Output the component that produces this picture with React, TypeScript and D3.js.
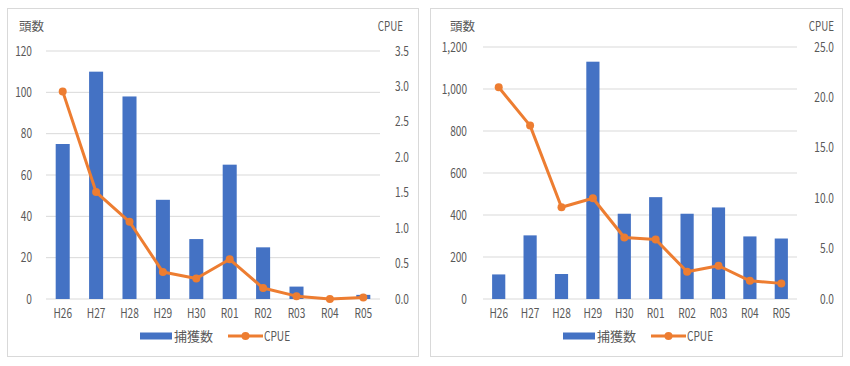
import React from 'react';
import * as d3 from 'd3';

// 年度
const years = ['H26', 'H27', 'H28', 'H29', 'H30', 'R01', 'R02', 'R03', 'R04', 'R05'];

// 左: 捕獲数 / CPUE
const countA = [75, 110, 98, 48, 29, 65, 25, 6, 0, 2];
const cpueA = [2.93, 1.51, 1.09, 0.38, 0.29, 0.56, 0.155, 0.04, 0.0, 0.02];

// 右: 捕獲数 / CPUE
const countB = [117, 303, 119, 1130, 406, 485, 406, 436, 298, 288];
const cpueB = [21.0, 17.2, 9.1, 10.0, 6.1, 5.9, 2.7, 3.3, 1.8, 1.55];

const BLUE = '#4472C4';
const ORANGE = '#ED7D31';
const GRID = '#d9d9d9';
const TEXT = '#595959';
const FONT = '"Liberation Sans Narrow", "Noto Sans CJK JP", sans-serif';

// narrow text (the original uses a condensed font)
function T({x, y, anchor = 'start', size = 13, sx = 0.78, children}) {
    return (
        <text transform={`translate(${x},${y}) scale(${sx},1)`} dy="0.35em" textAnchor={anchor} fontSize={size}>
            {children}
        </text>
    );
}

function Panel(props) {
    const {
        box, plot, yMax, yStep, yFmt, y2Max, y2Step, y2Fmt,
        counts, cpue, leftLabelX, rightLabelX, titleX, title2X, legendX
    } = props;

    const x = d3.scaleBand().domain(years).range([plot.left, plot.right]).paddingInner(0.58).paddingOuter(0.29);
    const y = d3.scaleLinear().domain([0, yMax]).range([plot.bottom, plot.top]);
    const y2 = d3.scaleLinear().domain([0, y2Max]).range([plot.bottom, plot.top]);

    const yTicks = d3.range(0, yMax + yStep / 2, yStep);
    const y2Ticks = d3.range(0, y2Max + y2Step / 2, y2Step);

    const cx = (d) => x(d) + x.bandwidth() / 2;
    const line = d3.line().x((d, i) => cx(years[i])).y((d) => y2(d));

    const ly = 336;

    return (
        <g fontFamily={FONT} fill={TEXT}>
            <rect x={box.x} y={box.y} width={box.w} height={box.h} fill="#fff" stroke={GRID} strokeWidth={1}/>

            {yTicks.map((t) => (
                <line key={'g' + t} x1={plot.left} x2={plot.right} y1={y(t)} y2={y(t)} stroke={GRID} strokeWidth={1}/>
            ))}
            {yTicks.map((t) => (
                <T key={'l' + t} x={leftLabelX} y={y(t)} anchor="end">{yFmt(t)}</T>
            ))}
            {y2Ticks.map((t) => (
                <T key={'r' + t} x={rightLabelX} y={y2(t)} anchor="end">{y2Fmt(t)}</T>
            ))}

            <T x={titleX} y={27} size={12.5} sx={1}>頭数</T>
            <T x={title2X} y={27} anchor="end" size={12.5}>CPUE</T>

            {counts.map((v, i) => (
                <rect key={'b' + i} x={x(years[i])} y={y(v)} width={x.bandwidth()} height={y(0) - y(v)} fill={BLUE}/>
            ))}

            <path d={line(cpue)} fill="none" stroke={ORANGE} strokeWidth={3} strokeLinejoin="round"/>
            {cpue.map((v, i) => (
                <circle key={'c' + i} cx={cx(years[i])} cy={y2(v)} r={4} fill={ORANGE}/>
            ))}

            {years.map((d) => (
                <T key={'x' + d} x={cx(d)} y={313} anchor="middle">{d}</T>
            ))}

            <rect x={legendX} y={ly - 3.5} width={32} height={7} fill={BLUE}/>
            <T x={legendX + 34} y={ly} size={13} sx={1}>捕獲数</T>
            <line x1={legendX + 88} x2={legendX + 123} y1={ly} y2={ly} stroke={ORANGE} strokeWidth={3}/>
            <circle cx={legendX + 105.5} cy={ly} r={4} fill={ORANGE}/>
            <T x={legendX + 124} y={ly}>CPUE</T>
        </g>
    );
}

export default function App() {
    const f0 = d3.format(',');
    const f1 = d3.format('.1f');
    return (
        <svg width={850} height={366} style={{position: 'absolute', left: 0, top: 0, background: '#fff'}}>
            <rect width={850} height={366} fill="#fff"/>
            <Panel
                box={{x: 7.5, y: 8.5, w: 411, h: 348}}
                plot={{left: 46, right: 380, top: 51, bottom: 299}}
                yMax={120} yStep={20} yFmt={f0}
                y2Max={3.5} y2Step={0.5} y2Fmt={f1}
                counts={countA} cpue={cpueA}
                leftLabelX={32} rightLabelX={409} titleX={19} title2X={403} legendX={140}
            />
            <Panel
                box={{x: 430.5, y: 8.5, w: 412, h: 348}}
                plot={{left: 483, right: 797, top: 47, bottom: 299}}
                yMax={1200} yStep={200} yFmt={f0}
                y2Max={25} y2Step={5} y2Fmt={f1}
                counts={countB} cpue={cpueB}
                leftLabelX={467} rightLabelX={834} titleX={450} title2X={834} legendX={563}
            />
        </svg>
    );
}
